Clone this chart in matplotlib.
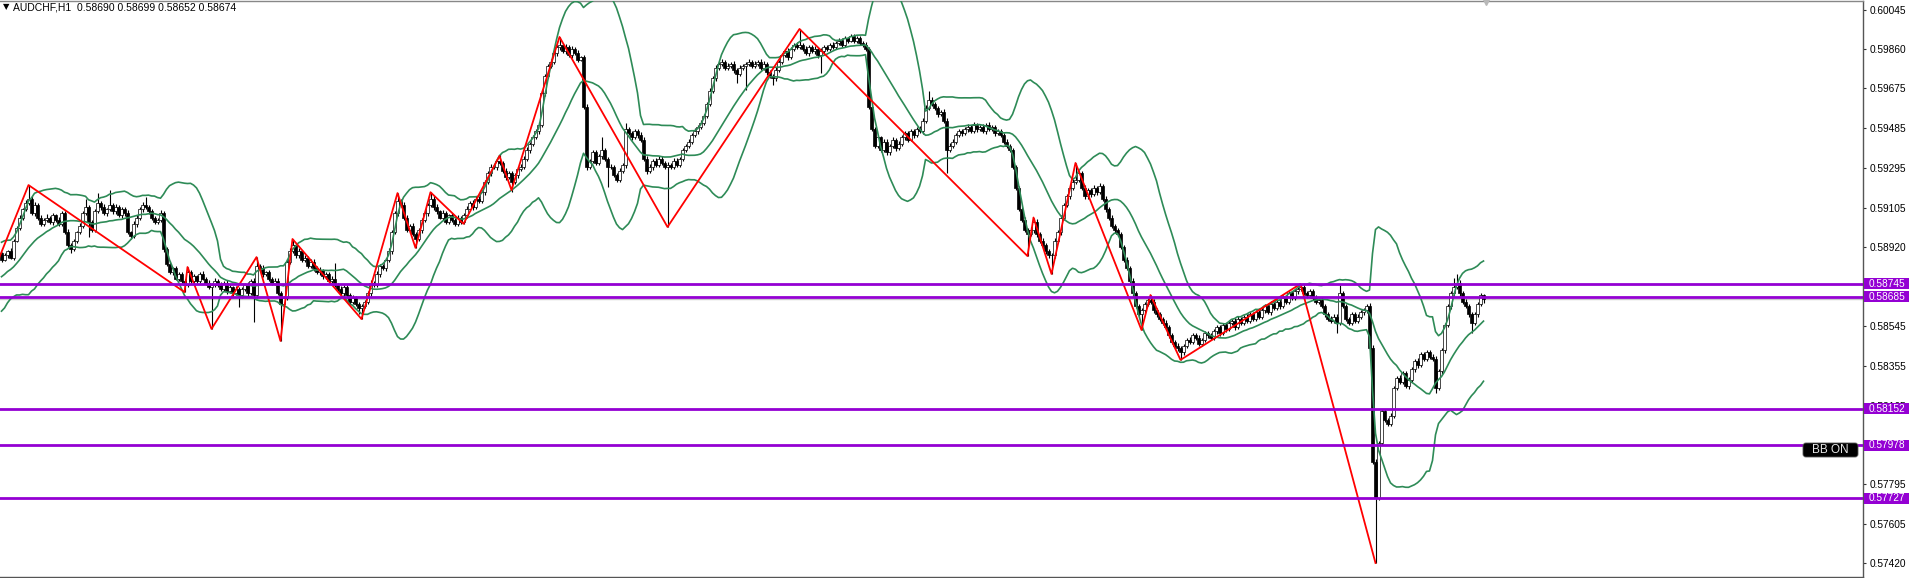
import matplotlib
matplotlib.use("Agg")
import matplotlib.pyplot as plt
import numpy as np
import pandas as pd
from matplotlib.patches import FancyBboxPatch, Rectangle

SYMBOL = "AUDCHF,H1"
LAST_OHLC = [0.58690, 0.58699, 0.58652, 0.58674]

# prices in points (1e-5); the bars before the window only feed the bands
PRE_CLOSES = [58640, 58660, 58630, 58680, 58700, 58690, 58720, 58710, 58750, 58770,
              58760, 58800, 58790, 58830, 58850, 58840, 58880, 58870, 58900, 58890]

CLOSES = [
    58860, 58880, 58900, 58870, 58950, 59010, 59060, 59100, 59130, 59150,
    59080, 59120, 59060, 59030, 59050, 59060, 59040, 59070, 59050, 59030,
    59080, 58990, 58930, 58910, 58950, 58990, 59020, 59080, 59110, 59040,
    59000, 59090, 59130, 59110, 59080, 59100, 59120, 59090, 59110, 59070,
    59100, 59080, 58990, 58970, 59030, 59060, 59100, 59120, 59110, 59090,
    59060, 59040, 59050, 59080, 58910, 58840, 58800, 58820, 58770, 58790,
    58760, 58740, 58800, 58760, 58780, 58760, 58790, 58770, 58750, 58730,
    58740, 58760, 58740, 58720, 58750, 58710, 58730, 58700, 58720, 58690,
    58720, 58740, 58700, 58760, 58690, 58830, 58820, 58790, 58800, 58770,
    58750, 58760, 58700, 58650, 58680, 58850, 58900, 58930, 58880, 58900,
    58860, 58870, 58830, 58850, 58820, 58800, 58810, 58780, 58790, 58760,
    58770, 58740, 58720, 58700, 58730, 58690, 58660, 58680, 58650, 58630,
    58640, 58660, 58700, 58750, 58740, 58790, 58830, 58820, 58860, 58900,
    58990, 59080, 59140, 59120, 59060, 59000, 59020, 58980, 58960, 59000,
    59050, 59080, 59120, 59150, 59110, 59090, 59060, 59080, 59040, 59070,
    59050, 59030, 59060, 59040, 59070, 59100, 59130, 59110, 59150, 59140,
    59180, 59230, 59270, 59300, 59300, 59330, 59320, 59280, 59250, 59270,
    59230, 59260, 59290, 59300, 59340, 59380, 59410, 59440, 59470, 59500,
    59650, 59730, 59780, 59800, 59840, 59870, 59880, 59850, 59870, 59830,
    59860, 59840, 59810, 59820, 59585, 59300, 59330, 59370, 59320, 59350,
    59380, 59340, 59300, 59300, 59260, 59240, 59280, 59310, 59480, 59460,
    59440, 59470, 59450, 59430, 59340, 59280, 59300, 59330, 59310, 59340,
    59320, 59300, 59310, 59300, 59330, 59310, 59340, 59380, 59400, 59420,
    59450, 59470, 59490, 59510, 59540, 59600, 59660, 59720, 59770, 59790,
    59800, 59770, 59780, 59790, 59760, 59740, 59770, 59780, 59790, 59800,
    59780, 59790, 59800, 59770, 59790, 59750, 59730, 59720, 59760, 59800,
    59830, 59850, 59820, 59860, 59880, 59870, 59880, 59860, 59840, 59870,
    59850, 59860, 59830, 59850, 59870, 59860, 59880, 59870, 59890, 59900,
    59880, 59910, 59900, 59920, 59900, 59910, 59890, 59880, 59860, 59585,
    59480, 59400, 59440, 59380, 59420, 59370, 59400, 59430, 59390, 59410,
    59440, 59460, 59430, 59470, 59450, 59480, 59470, 59520, 59580, 59620,
    59600, 59580, 59550, 59560, 59520, 59380, 59400, 59420, 59450, 59470,
    59460, 59480, 59490, 59470, 59500, 59480, 59490, 59470, 59500, 59480,
    59490, 59460, 59470, 59450, 59420, 59400, 59380, 59300, 59200, 59100,
    59050, 59000, 58980, 59000, 59040, 58980, 58950, 58930, 58900, 58880,
    58880, 58950, 58990, 59060, 59120, 59160, 59200, 59230, 59240, 59270,
    59200, 59160, 59190, 59170, 59200, 59180, 59210, 59150, 59100, 59060,
    59020, 59000, 58980, 58920, 58860, 58820, 58760, 58700, 58640, 58600,
    58620, 58650, 58670, 58660, 58620, 58600, 58580, 58560, 58540, 58500,
    58470, 58450, 58440, 58420, 58450, 58480, 58470, 58500, 58490, 58460,
    58480, 58510, 58500, 58490, 58520, 58540, 58510, 58550, 58530, 58560,
    58570, 58540, 58580, 58560, 58590, 58570, 58600, 58580, 58610, 58590,
    58620, 58640, 58610, 58650, 58630, 58660, 58640, 58680, 58660, 58700,
    58680, 58710, 58720, 58730, 58700, 58690, 58710, 58680, 58660, 58670,
    58640, 58600, 58580, 58570, 58590, 58560, 58700, 58640, 58580, 58560,
    58600, 58570, 58590, 58610, 58620, 58640, 58440, 57900, 57730, 57990,
    58140, 58100, 58080, 58120, 58250, 58300, 58280, 58320, 58260, 58290,
    58340, 58380, 58360, 58410, 58390, 58420, 58400, 58390, 58250, 58330,
    58430, 58550, 58640, 58700, 58730, 58750, 58700, 58660, 58640, 58600,
    58560, 58600, 58650, 58690, 58674,
]

UP_WICK = [
    8, 12, 6, 15, 10, 9, 14, 7, 11, 64,
    10, 14, 8, 12, 6, 18, 9, 11, 7, 13,
    9, 12, 15, 7, 10, 8, 14, 11, 40, 10,
    8, 12, 46, 9, 13, 7, 70, 10, 12, 8,
    11, 9, 14, 7, 12, 10, 8, 13, 37, 9,
    12, 8, 10, 15, 11, 9, 14, 7, 12, 10,
    9, 8, 25, 11, 13, 7, 10, 14, 9, 12,
    10, 15, 8, 12, 9, 14, 11, 7, 13, 10,
    12, 9, 14, 8, 11, 42, 10, 13, 7, 12,
    9, 11, 14, 10, 8, 12, 15, 28, 10, 13,
    8, 12, 9, 14, 11, 10, 13, 7, 12, 9,
    11, 74, 8, 13, 10, 9, 12, 14, 8, 11,
    10, 9, 13, 12, 8, 14, 10, 11, 9, 15,
    12, 10, 36, 9, 13, 11, 8, 14, 10, 12,
    9, 13, 11, 30, 10, 12, 8, 14, 11, 9,
    12, 10, 14, 8, 11, 13, 9, 12, 10, 14,
    11, 9, 13, 12, 12, 10, 32, 9, 14, 11,
    10, 13, 9, 12, 11, 14, 8, 12, 10, 13,
    15, 12, 10, 14, 9, 11, 37, 10, 13, 9,
    12, 10, 14, 9, 11, 13, 8, 12, 10, 11,
    62, 11, 9, 13, 10, 12, 14, 9, 29, 11,
    10, 12, 9, 14, 11, 10, 13, 8, 12, 10,
    11, 9, 13, 10, 12, 14, 9, 11, 10, 12,
    10, 13, 9, 12, 11, 8, 14, 10, 12, 9,
    11, 10, 13, 9, 12, 10, 14, 11, 9, 12,
    10, 12, 9, 13, 11, 10, 12, 9, 14, 10,
    12, 10, 13, 11, 9, 12, 75, 10, 13, 9,
    11, 12, 10, 13, 9, 11, 10, 12, 9, 11,
    10, 12, 9, 11, 10, 12, 11, 10, 13, 9,
    12, 10, 13, 9, 11, 14, 10, 12, 9, 11,
    10, 13, 11, 9, 12, 10, 14, 11, 13, 40,
    12, 10, 11, 9, 13, 10, 12, 11, 9, 12,
    10, 11, 13, 9, 12, 10, 11, 13, 10, 12,
    11, 9, 12, 10, 13, 11, 10, 12, 9, 11,
    10, 12, 11, 13, 20, 11, 10, 12, 9, 11,
    10, 13, 12, 11, 9, 12, 10, 11, 79, 12,
    10, 12, 11, 9, 13, 10, 12, 11, 10, 12,
    11, 10, 12, 9, 11, 13, 10, 12, 11, 9,
    12, 11, 10, 22, 12, 10, 11, 9, 12, 10,
    11, 10, 12, 9, 11, 10, 12, 11, 10, 12,
    9, 11, 10, 12, 11, 10, 12, 11, 9, 12,
    10, 11, 12, 10, 9, 11, 12, 10, 11, 9,
    12, 10, 11, 13, 10, 12, 11, 10, 12, 11,
    10, 12, 11, 15, 12, 11, 10, 12, 11, 10,
    12, 11, 10, 12, 11, 10, 40, 12, 11, 10,
    12, 11, 10, 12, 11, 10, 12, 15, 12, 10,
    11, 12, 10, 11, 12, 10, 11, 12, 10, 11,
    12, 10, 11, 12, 10, 11, 12, 10, 11, 10,
    12, 10, 11, 12, 43, 40, 12, 10, 11, 10,
    12, 10, 11, 12, 9,
]

DN_WICK = [
    10, 8, 12, 9, 14, 7, 11, 10, 8, 12,
    9, 13, 10, 8, 12, 11, 9, 14, 10, 8,
    12, 9, 11, 20, 10, 13, 8, 12, 9, 73,
    11, 10, 8, 13, 9, 12, 10, 11, 14, 9,
    10, 12, 9, 11, 8, 13, 10, 12, 9, 11,
    13, 10, 12, 9, 15, 11, 10, 13, 9, 12,
    10, 34, 11, 9, 12, 10, 13, 8, 11, 10,
    199, 12, 10, 11, 9, 13, 10, 12, 9, 55,
    11, 10, 12, 9, 126, 10, 12, 11, 9, 13,
    10, 12, 9, 176, 11, 10, 12, 9, 11, 10,
    12, 9, 11, 10, 13, 9, 12, 10, 11, 9,
    10, 12, 11, 9, 13, 10, 11, 12, 9, 30,
    52, 11, 10, 12, 9, 11, 13, 10, 12, 9,
    11, 10, 12, 9, 11, 10, 13, 9, 44, 10,
    12, 9, 11, 10, 12, 11, 9, 13, 10, 12,
    9, 11, 10, 12, 12, 11, 9, 12, 10, 11,
    10, 12, 9, 11, 10, 13, 11, 10, 12, 9,
    50, 10, 12, 9, 11, 10, 12, 11, 9, 12,
    10, 11, 9, 12, 10, 11, 13, 10, 12, 9,
    11, 10, 12, 9, 11, 13, 10, 12, 11, 10,
    12, 10, 95, 11, 9, 12, 10, 11, 13, 10,
    11, 9, 12, 10, 11, 12, 10, 13, 9, 11,
    10, 12, 285, 11, 10, 12, 9, 11, 10, 12,
    11, 10, 12, 9, 11, 10, 12, 11, 10, 9,
    12, 10, 11, 9, 12, 40, 10, 11, 115, 10,
    11, 12, 10, 11, 9, 12, 10, 30, 11, 10,
    12, 10, 11, 9, 12, 10, 11, 12, 10, 11,
    10, 12, 11, 84, 10, 12, 11, 9, 12, 10,
    11, 10, 12, 9, 11, 12, 10, 11, 9, 12,
    10, 11, 12, 10, 9, 12, 11, 10, 12, 11,
    12, 10, 11, 9, 12, 10, 11, 12, 10, 11,
    10, 12, 11, 10, 12, 110, 11, 10, 12, 9,
    11, 10, 12, 11, 9, 12, 10, 11, 12, 10,
    11, 12, 10, 9, 12, 11, 10, 12, 11, 10,
    12, 11, 103, 10, 12, 11, 10, 12, 11, 10,
    88, 11, 10, 12, 11, 10, 12, 11, 10, 12,
    11, 10, 12, 11, 9, 12, 10, 11, 12, 10,
    11, 12, 10, 11, 12, 10, 11, 12, 10, 11,
    74, 11, 10, 12, 11, 10, 12, 11, 10, 12,
    11, 10, 12, 36, 11, 10, 12, 11, 10, 12,
    11, 10, 12, 11, 10, 12, 11, 10, 12, 11,
    10, 12, 11, 10, 12, 11, 10, 12, 11, 10,
    12, 11, 10, 12, 11, 10, 12, 11, 10, 12,
    11, 10, 12, 11, 10, 12, 11, 10, 12, 11,
    10, 12, 11, 10, 12, 48, 11, 10, 12, 11,
    10, 12, 11, 10, 12, 11, 10, 12, 310, 11,
    12, 10, 11, 12, 10, 11, 12, 10, 11, 12,
    10, 11, 12, 10, 11, 12, 10, 11, 23, 10,
    12, 11, 10, 12, 11, 10, 12, 11, 10, 12,
    48, 11, 10, 12, 22,
]

# zigzag turning points: bar index and price (points)
ZZ_BARS = [-3, 9, 61, 62, 70, 85, 93, 97, 120, 132, 138, 143, 154, 166, 170, 186,
           222, 266, 342, 344, 350, 358, 380, 383, 393, 433, 458]
ZZ_PRICES = [58790, 59214, 58706, 58825, 58531, 58872, 58474, 58958, 58578, 59176,
             58916, 59180, 59030, 59352, 59190, 59917, 59015, 59955, 58877, 59060,
             58792, 59319, 58526, 58692, 58384, 58745, 57420]

LEVELS = [0.58745, 0.58685, 0.58152, 0.57978, 0.57727]
Y_TICKS = [0.60045, 0.59860, 0.59675, 0.59485, 0.59295, 0.59105, 0.58920, 0.58730,
           0.58545, 0.58355, 0.58165, 0.57980, 0.57795, 0.57605, 0.57420]
HIDDEN_TICKS = [0.58730, 0.57980]  # sit under the level labels
BB_PERIOD = 20
BB_DEV = 2

FONT = ["Liberation Sans", "DejaVu Sans"]
plt.rcParams["font.family"] = FONT

# ---- series
pts = 1e5
close = np.array(CLOSES) / pts
opn = np.array([PRE_CLOSES[-1]] + CLOSES[:-1]) / pts
high = np.maximum(opn, close) + np.array(UP_WICK) / pts
low = np.minimum(opn, close) - np.array(DN_WICK) / pts
x = np.arange(len(CLOSES))

allClose = pd.Series(np.array(PRE_CLOSES + CLOSES) / pts)
mid = allClose.rolling(BB_PERIOD).mean().to_numpy()[len(PRE_CLOSES):]
sd = allClose.rolling(BB_PERIOD).std(ddof=0).to_numpy()[len(PRE_CLOSES):]

# ---- figure
W, H = 1912, 578
AX_W = 1863
fig = plt.figure(figsize=(W / 100, H / 100), dpi=100)
fig.patch.set_facecolor("white")
ax = fig.add_axes([0, 1 / H, AX_W / W, 576 / H])
ax.set_xlim(-0.5, 620.5)
ax.set_ylim(0.573536, 0.600877)
pxPrice = (0.600877 - 0.573536) / 576  # price span of one pixel

# candles
ax.vlines(x, low, high, color="black", lw=0.8, zorder=2)
bull = close >= opn
bodyLo = np.minimum(opn, close)
bodyH = np.maximum(np.abs(close - opn), 0.000006)
ax.bar(x[bull], bodyH[bull], bottom=bodyLo[bull], width=0.72,
       color="white", edgecolor="black", lw=0.5, zorder=2.1)
ax.bar(x[~bull], bodyH[~bull], bottom=bodyLo[~bull], width=0.72,
       color="black", edgecolor="black", lw=0.5, zorder=2.1)

# bollinger bands
green = "#2e8b57"
for band in (mid, mid + BB_DEV * sd, mid - BB_DEV * sd):
    ax.plot(x, band, color=green, lw=1.2, zorder=3)

# zigzag
ax.plot(ZZ_BARS, np.array(ZZ_PRICES) / pts, color="#ff0000", lw=1.3, zorder=4)

# bid line
ax.axhline(LAST_OHLC[3], color="#c8c8c8", lw=1.0, zorder=1)

# horizontal levels with their price boxes on the scale
purple = "#9400d3"
yTrans = ax.get_yaxis_transform()
for lvl in LEVELS:
    ax.axhline(lvl, color=purple, lw=2.0, zorder=5)
    ax.add_patch(Rectangle((1.0 + 1 / AX_W, lvl - 5.5 * pxPrice), 45 / AX_W, 11 * pxPrice,
                           transform=yTrans, fc=purple, ec="none",
                           clip_on=False, zorder=9))
    ax.text(1.0 + 6 / AX_W, lvl, f"{lvl:.5f}", transform=yTrans,
            ha="left", va="center", color="white", fontsize=7.3,
            clip_on=False, zorder=10)

ax.yaxis.tick_right()
ax.set_yticks(Y_TICKS)
ax.set_yticklabels(["" if t in HIDDEN_TICKS else f"{t:.5f}" for t in Y_TICKS])
ax.tick_params(axis="y", labelsize=7.3, length=2.5, width=0.8, pad=2.5,
               color="#333333", labelcolor="black")
ax.set_xticks([])
ax.spines["left"].set_visible(False)
for side in ("right", "top", "bottom"):
    ax.spines[side].set_color("#555555")
    ax.spines[side].set_linewidth(1.0)
ax.spines["top"].set_color("#888888")

# chart shift marker
ax.plot([494.8], [1.0], marker="v", ms=6, color="#b8b8b8",
        transform=ax.get_xaxis_transform(), clip_on=False, zorder=6)

# header and the indicator button
fig.text(3 / W, 1 - 7 / H, "\u25bc", fontsize=6, va="center", ha="left",
         color="black", family=["DejaVu Sans"])
fig.text(13 / W, 1 - 7 / H,
         SYMBOL + "  " + " ".join(f"{v:.5f}" for v in LAST_OHLC),
         fontsize=7.5, va="center", ha="left", color="black")
fig.patches.append(FancyBboxPatch((1803 / W, 1 - 457 / H), 55 / W, 14 / H,
                                  boxstyle="round,pad=0,rounding_size=0.0015",
                                  mutation_aspect=W / H, transform=fig.transFigure,
                                  fc="black", ec="#555555", lw=0.6, zorder=11))
fig.text(1830.5 / W, 1 - 450 / H, "BB ON", fontsize=8.5, color="#e6e6e6",
         ha="center", va="center", zorder=12)

fig.savefig("out.png", dpi=100)
